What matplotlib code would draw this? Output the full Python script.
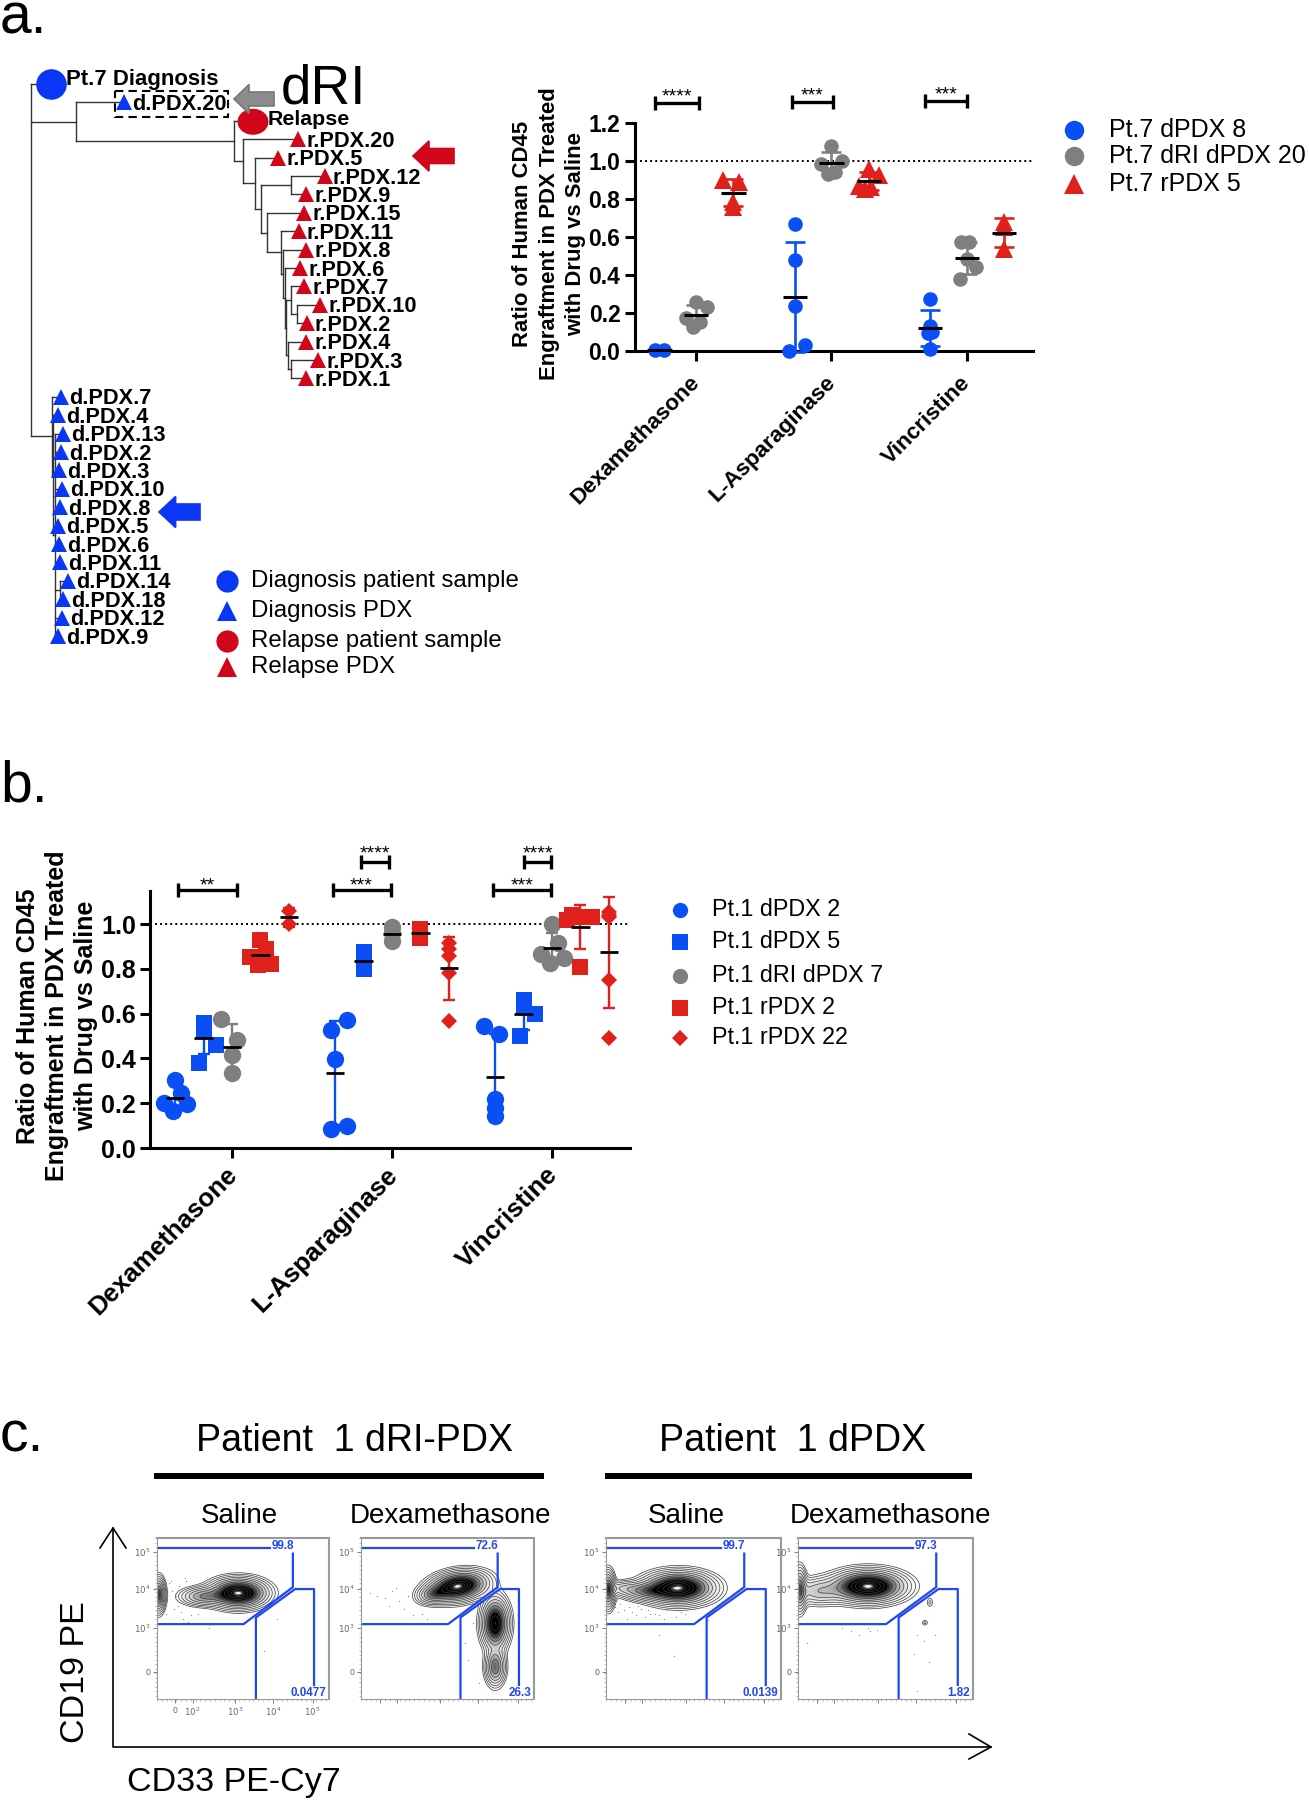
import numpy as np
import matplotlib
matplotlib.use('Agg')
import matplotlib.pyplot as plt
from matplotlib.patches import Polygon, Ellipse, Rectangle
from matplotlib.ticker import MultipleLocator
from matplotlib.transforms import ScaledTranslation

plt.rcParams['font.family'] = ['Liberation Sans', 'DejaVu Sans']

W, H = 1309, 1800
BLUE = '#0a4ff5'
GREY = '#7f7f7f'
RED = '#e0201a'
TREE_BLUE = '#0a36f5'
TREE_RED = '#d2061a'
GATE = '#2048ee'

drugs = ['Dexamethasone', 'L-Asparaginase', 'Vincristine']

# panel a values, one list per drug, *_sx is the sideways scatter of each point
a_names = ['Pt.7 dPDX 8', 'Pt.7 dRI dPDX 20', 'Pt.7 rPDX 5']
a_blue = [[0.005, 0.005],
          [0.667, 0.478, 0.237, 0.03, 0.0],
          [0.27, 0.13, 0.10, 0.09, 0.01]]
a_blue_sx = [[-0.034, 0.034],
             [0, 0, 0, 0.074, -0.045],
             [0, 0, 0.015, -0.015, 0]]
a_grey = [[0.257, 0.228, 0.17, 0.152, 0.126],
          [1.08, 1.0, 0.985, 0.94, 0.93],
          [0.571, 0.571, 0.485, 0.438, 0.378]]
a_grey_sx = [[0, 0.079, -0.074, 0.026, -0.026],
             [0, 0.074, -0.079, 0.026, -0.026],
             [-0.045, 0.013, 0, 0.066, -0.048]]
a_red = [[0.897, 0.888, 0.783, 0.757],
         [0.958, 0.925, 0.87, 0.862, 0.853],
         [0.68, 0.65, 0.535]]
a_red_sx = [[-0.079, 0.045, 0, 0],
            [0, 0.077, -0.074, 0.018, -0.029],
            [0, 0, 0]]

# panel b values
b_names = ['Pt.1 dPDX 2', 'Pt.1 dPDX 5', 'Pt.1 dRI dPDX 7', 'Pt.1 rPDX 2', 'Pt.1 rPDX 22']
b_circle = [[0.304, 0.245, 0.2, 0.197, 0.164],
            [0.573, 0.528, 0.398, 0.1, 0.085],
            [0.543, 0.51, 0.219, 0.178, 0.145]]
b_circle_sx = [[0, 0.039, -0.071, 0.074, -0.013],
               [0.076, -0.026, 0, 0.071, -0.026],
               [-0.071, 0.026, 0, 0, 0]]
b_square = [[0.56, 0.54, 0.525, 0.46, 0.38],
            [0.876, 0.83, 0.797],
            [0.66, 0.63, 0.6, 0.5]]
b_square_sx = [[0, 0, 0, 0.079, -0.032],
               [0, 0, 0],
               [0, 0, 0.071, -0.026]]
b_grey = [[0.578, 0.48, 0.413, 0.334],
          [0.988, 0.958, 0.924],
          [0.999, 0.913, 0.864, 0.85, 0.828]]
b_grey_sx = [[-0.071, 0.029, 0, 0],
             [0, 0, 0],
             [0, 0.039, -0.071, 0.074, -0.013]]
b_rsquare = [[0.928, 0.887, 0.854, 0.816, 0.82],
             [0.978, 0.958, 0.938],
             [1.04, 1.03, 1.03, 1.02, 0.81]]
b_rsquare_sx = [[0, 0.034, -0.066, -0.013, 0.066],
                [0, 0, 0],
                [-0.05, -0.015, 0.071, -0.085, 0]]
b_diamond = [[1.06, 1.0],
             [0.915, 0.89, 0.857, 0.78, 0.566],
             [1.055, 1.04, 1.03, 0.749, 0.49]]
b_diamond_sx = [[0, 0],
                [0, 0, 0, 0, 0],
                [0, 0, 0, 0, 0]]

# tree: (branch x, children), a string is a tip
tips = {'Pt.7 Diagnosis': 51, 'd.PDX.20': 124, 'Relapse': 253,
        'r.PDX.20': 298, 'r.PDX.5': 278, 'r.PDX.12': 325, 'r.PDX.9': 306,
        'r.PDX.15': 304, 'r.PDX.11': 299, 'r.PDX.8': 306, 'r.PDX.6': 300,
        'r.PDX.7': 304, 'r.PDX.10': 320, 'r.PDX.2': 307, 'r.PDX.4': 306,
        'r.PDX.3': 318, 'r.PDX.1': 306,
        'd.PDX.7': 61, 'd.PDX.4': 58, 'd.PDX.13': 63, 'd.PDX.2': 61,
        'd.PDX.3': 59, 'd.PDX.10': 62, 'd.PDX.8': 60, 'd.PDX.5': 58,
        'd.PDX.6': 59, 'd.PDX.11': 60, 'd.PDX.14': 68, 'd.PDX.18': 63,
        'd.PDX.12': 62, 'd.PDX.9': 58}
r_low = (285, ['r.PDX.6', (286, [(291, ['r.PDX.7', (297, ['r.PDX.10', 'r.PDX.2'])]),
                                 (288, ['r.PDX.4', (291, ['r.PDX.3', 'r.PDX.1'])])])])
r_mid = (267, ['r.PDX.15', (281, ['r.PDX.11', (283, ['r.PDX.8', r_low])])])
r_clade = (243, ['r.PDX.20', (255, ['r.PDX.5', (261, [(291, ['r.PDX.12', 'r.PDX.9']), r_mid])])])
d_clade = (52, ['d.PDX.7', (53, ['d.PDX.4', (55, ['d.PDX.13', 'd.PDX.2', 'd.PDX.3', 'd.PDX.10',
                                                  'd.PDX.8', 'd.PDX.5', 'd.PDX.6', 'd.PDX.11',
                                                  (60, ['d.PDX.14', 'd.PDX.18']),
                                                  'd.PDX.12', 'd.PDX.9'])])])
tree = (31, ['Pt.7 Diagnosis', (76, ['d.PDX.20', (234, ['Relapse', r_clade])]), d_clade])

# flow plots
flow_titles = ['Saline', 'Dexamethasone', 'Saline', 'Dexamethasone']
flow_title_x = [239, 451, 686.6, 891]
flow_upper = ['99.8', '72.6', '99.7', '97.3']
flow_lower = ['0.0477', '26.3', '0.0139', '1.82']
# contour blobs: cx, cy, sx, sy, angle, height
flow_blobs = [
    [(0.473, 0.342, 0.083, 0.045, 0, 1.0), (0.27, 0.363, 0.07, 0.03, 0, 0.3), (0.01, 0.353, 0.02, 0.055, 0, 0.5)],
    [(0.56, 0.30, 0.085, 0.045, -10, 1.0), (0.42, 0.35, 0.05, 0.03, -10, 0.3), (0.776, 0.53, 0.04, 0.08, 0, 0.8), (0.776, 0.80, 0.03, 0.06, 0, 0.4)],
    [(0.414, 0.31, 0.10, 0.05, 0, 1.0), (0.233, 0.33, 0.08, 0.03, 0, 0.3), (0.013, 0.32, 0.02, 0.06, 0, 0.5), (0.1, 0.31, 0.06, 0.025, 0, 0.12)],
    [(0.40, 0.30, 0.105, 0.05, 0, 1.0), (0.01, 0.32, 0.02, 0.07, 0, 0.4), (0.12, 0.33, 0.08, 0.045, 0, 0.2), (0.725, 0.526, 0.012, 0.012, 0, 0.04), (0.754, 0.40, 0.012, 0.02, 0, 0.04)],
]
flow_dots_x = [
    [0.08, 0.1, 0.13, 0.16, 0.2, 0.05, 0.12, 0.18, 0.3, 0.62, 0.7, 0.09, 0.22, 0.15, 0.06, 0.11, 0.17, 0.24, 0.07, 0.14],
    [0.05, 0.09, 0.14, 0.2, 0.22, 0.27, 0.16, 0.35, 0.6, 0.62, 0.68, 0.65, 0.7, 0.25, 0.18, 0.3, 0.38],
    [0.05, 0.08, 0.1, 0.15, 0.2, 0.25, 0.3, 0.35, 0.4, 0.45, 0.5, 0.3, 0.39, 0.12, 0.22, 0.58, 0.07, 0.13, 0.18, 0.28, 0.33, 0.43, 0.03, 0.17, 0.24],
    [0.3, 0.35, 0.4, 0.05, 0.68, 0.72, 0.75, 0.66, 0.78, 0.68, 0.41, 0.25, 0.45],
]
flow_dots_y = [
    [0.27, 0.44, 0.3, 0.25, 0.48, 0.47, 0.42, 0.52, 0.56, 0.7, 0.5, 0.33, 0.43, 0.5, 0.4, 0.36, 0.27, 0.47, 0.28, 0.46],
    [0.34, 0.36, 0.37, 0.31, 0.39, 0.36, 0.42, 0.47, 0.65, 0.76, 0.9, 0.53, 0.44, 0.44, 0.33, 0.48, 0.5],
    [0.43, 0.41, 0.45, 0.46, 0.44, 0.47, 0.48, 0.45, 0.49, 0.47, 0.44, 0.6, 0.73, 0.5, 0.49, 0.51, 0.46, 0.43, 0.42, 0.47, 0.5, 0.46, 0.42, 0.48, 0.45],
    [0.58, 0.6, 0.56, 0.65, 0.6, 0.64, 0.77, 0.72, 0.6, 0.95, 0.58, 0.56, 0.57],
]
flow_ytick_pos = [0.087, 0.317, 0.558, 0.83]
flow_ytick_lab = ['$10^5$', '$10^4$', '$10^3$', '0']
flow_xtick_pos = [0.107, 0.207, 0.455, 0.677, 0.905]
flow_xtick_lab = ['0', '$10^2$', '$10^3$', '$10^4$', '$10^5$']


def add_axes_px(x0, y0, x1, y1):
    # box given in picture pixels, y going down
    return fig.add_axes([x0 / W, 1 - y1 / H, (x1 - x0) / W, (y1 - y0) / H])


def scatter_group(ax, xc, vals, sx, color, marker, ms, half_mean, capsize, lw):
    vals = np.array(vals)
    ax.plot(xc + np.array(sx), vals, ls='none', marker=marker, color=color, ms=ms,
            mew=0, clip_on=False, zorder=3)
    m = vals.mean()
    s = vals.std(ddof=1)
    ax.errorbar([xc], [m], yerr=[s], color=color, capsize=capsize, capthick=lw, elinewidth=lw,
                clip_on=False, zorder=4, ls='none')
    ax.plot([xc - half_mean, xc + half_mean], [m, m], color='black', lw=lw + 0.3,
            clip_on=False, zorder=5, solid_capstyle='butt')


def style_axes(ax, lw, tick_size, label_size, tick_len, pad):
    for s in ['top', 'right']:
        ax.spines[s].set_visible(False)
    for s in ['left', 'bottom']:
        ax.spines[s].set_linewidth(lw)
    ax.tick_params(axis='both', width=lw, length=tick_len)
    ax.set_xticks([1, 2, 3])
    ax.set_xticklabels(drugs, rotation=45, ha='right', rotation_mode='anchor',
                       fontsize=label_size, fontweight='bold')
    ax.tick_params(axis='x', pad=pad)
    # slide the slanted labels a bit to the left of their tick
    shift = ScaledTranslation(-7 / 100, 0, fig.dpi_scale_trans)
    for t in ax.get_xticklabels():
        t.set_transform(t.get_transform() + shift)
    for t in ax.get_yticklabels():
        t.set_fontsize(tick_size)
        t.set_fontweight('bold')
    ax.axhline(1.0, color='black', ls=(0, (1, 1.6)), lw=1.4, zorder=1)


def bracket(x0, x1, y, label, cap, lw, size, label_dy):
    pix.plot([x0, x1], [y, y], color='black', lw=lw, solid_capstyle='butt')
    pix.plot([x0, x0], [y - cap, y + cap], color='black', lw=lw, solid_capstyle='butt')
    pix.plot([x1, x1], [y - cap, y + cap], color='black', lw=lw, solid_capstyle='butt')
    pix.text((x0 + x1) / 2, y + label_dy, label, ha='center', va='center', fontsize=size)


def block_arrow(tip, base, end, yc, head, shaft, fc, ec=None):
    pts = [(tip, yc), (base, yc - head), (base, yc - shaft), (end, yc - shaft),
           (end, yc + shaft), (base, yc + shaft), (base, yc + head)]
    pix.add_patch(Polygon(pts, closed=True, fc=fc, ec=ec if ec else fc, lw=1.2, zorder=6))


# tree drawing, rows are handed out top to bottom
row = [0]


def draw_node(node, px):
    if isinstance(node, str):
        y = 84 + row[0] * 18.4
        row[0] += 1
        x = tips[node]
        pix.plot([px, x], [y, y], color='#333333', lw=1.0, zorder=1)
        c = TREE_BLUE if node.startswith('d.') else TREE_RED
        if node == 'Pt.7 Diagnosis':
            pix.plot([x], [y], marker='o', color=TREE_BLUE, ms=22, mew=0, zorder=2)
            pix.text(66, 80, node, fontsize=15.9, fontweight='bold', va='center')
        elif node == 'Relapse':
            pix.add_patch(Ellipse((x, y + 1), 31, 26, fc=TREE_RED, ec='none', zorder=2))
            pix.text(268, y - 1, node, fontsize=15.4, fontweight='bold', va='center')
        else:
            pix.plot([x], [y], marker='^', color=c, ms=12, mew=0, zorder=2)
            pix.text(x + 8, y + 2, node, fontsize=15.7, fontweight='bold', va='center')
        return y
    x, kids = node
    ys = [draw_node(k, x) for k in kids]
    y = (ys[0] + ys[-1]) / 2
    pix.plot([x, x], [ys[0], ys[-1]], color='#333333', lw=1.0, zorder=1)
    if px is not None:
        pix.plot([px, x], [y, y], color='#333333', lw=1.0, zorder=1)
    return y


def flow_panel(x0, x1, idx, show_x):
    ax = add_axes_px(x0, 1538, x1, 1699)
    ax.set_xlim(0, 1)
    ax.set_ylim(1, 0)
    gx, gy = np.meshgrid(np.linspace(0, 1, 400), np.linspace(0, 1, 400))
    f = np.zeros_like(gx)
    for cx, cy, sx, sy, ang, amp in flow_blobs[idx]:
        a = np.radians(ang)
        u = (gx - cx) * np.cos(a) + (gy - cy) * np.sin(a)
        v = -(gx - cx) * np.sin(a) + (gy - cy) * np.cos(a)
        f += amp * np.exp(-0.5 * (u / sx) ** 2 - 0.5 * (v / sy) ** 2)
    g = f / f.max()
    # dark band round the peak with a pale middle, then the contour lines
    shade = g * (1 - g ** 14)
    ax.imshow(shade, extent=(0, 1, 1, 0), cmap='Greys', vmin=0, vmax=0.6, aspect='auto',
              interpolation='bilinear', zorder=0)
    levels = np.exp(-0.5 * np.linspace(2.8, 0.25, 13) ** 2) * f.max()
    ax.contour(gx, gy, f, levels=levels, colors='#3a3a3a', linewidths=0.5, zorder=1)
    ax.plot(flow_dots_x[idx], flow_dots_y[idx], ls='none', marker='.', ms=1.8, color='#888888', mew=0)
    # gates
    ax.plot([0.01, 0.655], [0.062, 0.062], color=GATE, lw=1.6)
    ax.plot([0.79, 0.79, 0.503, 0.0], [0.097, 0.305, 0.535, 0.535], color=GATE, lw=1.6)
    ax.plot([0.913, 0.913, 0.803, 0.575, 0.575], [0.913, 0.317, 0.317, 0.494, 1.0], color=GATE, lw=1.6)
    ax.text(0.73, 0.05, flow_upper[idx], color=GATE, fontsize=8.4, fontweight='bold', ha='center', va='center')
    ax.text(0.985, 0.96, flow_lower[idx], color=GATE, fontsize=8.4, fontweight='bold', ha='right', va='center')
    for s in ax.spines.values():
        s.set_color('#9a9a9a')
        s.set_linewidth(0.8)
    ax.spines['top'].set_linewidth(1.5)
    ax.spines['right'].set_linewidth(1.5)
    ax.set_yticks(flow_ytick_pos)
    ax.set_yticklabels(flow_ytick_lab, fontsize=6.2, color='#666666')
    ax.set_xticks(flow_xtick_pos)
    ax.set_xticklabels(flow_xtick_lab if show_x else [], fontsize=6.2, color='#666666')
    ax.xaxis.set_minor_locator(MultipleLocator(0.028))
    ax.yaxis.set_minor_locator(MultipleLocator(0.028))
    ax.tick_params(axis='both', which='major', length=3, width=0.6, color='#666666', pad=2)
    ax.tick_params(axis='both', which='minor', length=1.5, width=0.4, color='#888888')
    ax.tick_params(axis='x', which='major', pad=2)
    pix.text(flow_title_x[idx], 1516, flow_titles[idx], fontsize=20, ha='center', va='center')


fig = plt.figure(figsize=(W / 100, H / 100), dpi=100)

# overlay in picture pixels for tree, labels and arrows
pix = fig.add_axes([0, 0, 1, 1], zorder=5)
pix.set_xlim(0, W)
pix.set_ylim(H, 0)
pix.axis('off')
pix.patch.set_alpha(0)

pix.text(0, 33, 'a.', fontsize=41, va='baseline')
pix.text(0, 802, 'b.', fontsize=41, va='baseline')
pix.text(0, 1452, 'c.', fontsize=41, va='baseline')

# tree
draw_node(tree, None)
pix.add_patch(Rectangle((115, 90.7), 113, 26.3, fc='none', ec='black', lw=1.5, ls=(0, (4, 2.5)), zorder=3))
pix.text(281, 90, 'dRI', fontsize=39.5, ha='left', va='center')
block_arrow(234, 249, 274, 99, 14.5, 7, '#8c8c8c', '#777777')
block_arrow(413, 429, 454, 156, 15, 7.5, TREE_RED)
block_arrow(159, 175.6, 200, 512, 15.5, 8, TREE_BLUE)

# tree legend
leg_y = [581, 611, 641, 667]
leg_txt = ['Diagnosis patient sample', 'Diagnosis PDX', 'Relapse patient sample', 'Relapse PDX']
leg_mk = ['o', '^', 'o', '^']
leg_c = [TREE_BLUE, TREE_BLUE, TREE_RED, TREE_RED]
for y, t, m, c in zip(leg_y, leg_txt, leg_mk, leg_c):
    pix.plot([227], [y], marker=m, color=c, ms=16 if m == 'o' else 15, mew=0)
    pix.text(251, y, t, fontsize=17.3, va='center')

# panel a
axa = add_axes_px(635, 123, 1033, 350.5)
axa.set_ylim(0, 1.2)
axa.set_xlim(1 - 61 / 135, 3 + 66 / 135)
axa.set_yticks(np.arange(0, 1.21, 0.2))
axa.set_yticklabels(['%.1f' % v for v in np.arange(0, 1.21, 0.2)])
style_axes(axa, 2.2, 16.5, 16.2, 7, 8.5)
a_series = [(a_blue, a_blue_sx, BLUE, 'o', -0.27, 10.5), (a_grey, a_grey_sx, GREY, 'o', 0.0, 10.5),
            (a_red, a_red_sx, RED, '^', 0.275, 12.5)]
for vals, sx, col, mk, dx, ms in a_series:
    for i in range(3):
        scatter_group(axa, i + 1 + dx, vals[i], sx[i], col, mk, ms, 0.09, 7.5, 1.9)
axa.set_zorder(2)
pix.text(549, 234, 'Ratio of Human CD45\nEngraftment in PDX Treated\nwith Drug vs Saline',
         rotation=90, ha='center', va='center', fontsize=15.9, fontweight='bold', linespacing=1.35)

bracket(655, 699, 103, '****', 7, 2.4, 14, -6)
bracket(792, 833, 102, '***', 7, 2.4, 14, -6)
bracket(925, 967, 101, '***', 7, 2.4, 14, -6)

leg_a_y = [130, 156, 184]
leg_a_mk = ['o', 'o', '^']
leg_a_c = [BLUE, GREY, RED]
for y, t, m, c in zip(leg_a_y, a_names, leg_a_mk, leg_a_c):
    pix.plot([1074], [y], marker=m, color=c, ms=14, mew=0)
    pix.text(1109, y, t, fontsize=18, va='center')

# panel b
y_unit = 1148 - 924
axb = add_axes_px(150.4, 891, 630, 1148)
axb.set_ylim(0, (1148 - 891) / y_unit)
axb.set_xlim(1 - (232 - 150.4) / 160, 3 + (630 - 552) / 160)
axb.set_yticks(np.arange(0, 1.01, 0.2))
axb.set_yticklabels(['%.1f' % v for v in np.arange(0, 1.01, 0.2)])
style_axes(axb, 2.2, 18, 18.6, 7, 3.5)
b_series = [(b_circle, b_circle_sx, BLUE, 'o', -0.355, 12.5), (b_square, b_square_sx, BLUE, 's', -0.177, 12),
            (b_grey, b_grey_sx, GREY, 'o', 0.0, 12.5), (b_rsquare, b_rsquare_sx, RED, 's', 0.177, 12),
            (b_diamond, b_diamond_sx, RED, 'D', 0.355, 8.5)]
for vals, sx, col, mk, dx, ms in b_series:
    for i in range(3):
        scatter_group(axb, i + 1 + dx, vals[i], sx[i], col, mk, ms, 0.058, 4, 1.7)
axb.set_zorder(2)
pix.text(57, 1016, 'Ratio of Human CD45\nEngraftment in PDX Treated\nwith Drug vs Saline',
         rotation=90, ha='center', va='center', fontsize=18, fontweight='bold', linespacing=1.25)

bracket(178, 236.5, 890, '**', 7, 2.4, 14, -4)
bracket(332.5, 390.6, 890, '***', 7, 2.4, 14, -4)
bracket(493, 551, 890, '***', 7, 2.4, 14, -4)
bracket(361, 389, 862, '****', 7, 2.4, 14, -8)
bracket(524, 551, 862, '****', 7, 2.4, 14, -8)

leg_b_y = [910, 942, 976, 1008, 1038]
leg_b_mk = ['o', 's', 'o', 's', 'D']
leg_b_c = [BLUE, BLUE, GREY, RED, RED]
for y, t, m, c in zip(leg_b_y, b_names, leg_b_mk, leg_b_c):
    pix.plot([680], [y], marker=m, color=c, ms=11 if m != 'D' else 8, mew=0)
    pix.text(712, y, t, fontsize=16.8, va='center')

# panel c
pix.text(354, 1441, 'Patient  1 dRI-PDX', fontsize=27, ha='center', va='center')
pix.text(793, 1441, 'Patient  1 dPDX', fontsize=27, ha='center', va='center')
pix.add_patch(Rectangle((154, 1473), 390, 6, fc='black', ec='none'))
pix.add_patch(Rectangle((605, 1473), 367, 6, fc='black', ec='none'))

flow_panel(157, 329, 0, True)
flow_panel(361, 534, 1, False)
flow_panel(606, 781, 2, False)
flow_panel(798, 973, 3, False)

# big axis arrows round the flow plots
pix.plot([113, 113, 991], [1528, 1747, 1747], color='black', lw=1.2)
pix.plot([100, 113, 126], [1548, 1528, 1548], color='black', lw=1.2)
pix.plot([969, 991, 969], [1734, 1747, 1759], color='black', lw=1.2)
pix.text(76, 1672, 'CD19 PE', rotation=90, fontsize=24.5, ha='center', va='center')
pix.text(127, 1782, 'CD33 PE-Cy7', fontsize=24.5, ha='left', va='center')

fig.savefig('out.png', dpi=100)
